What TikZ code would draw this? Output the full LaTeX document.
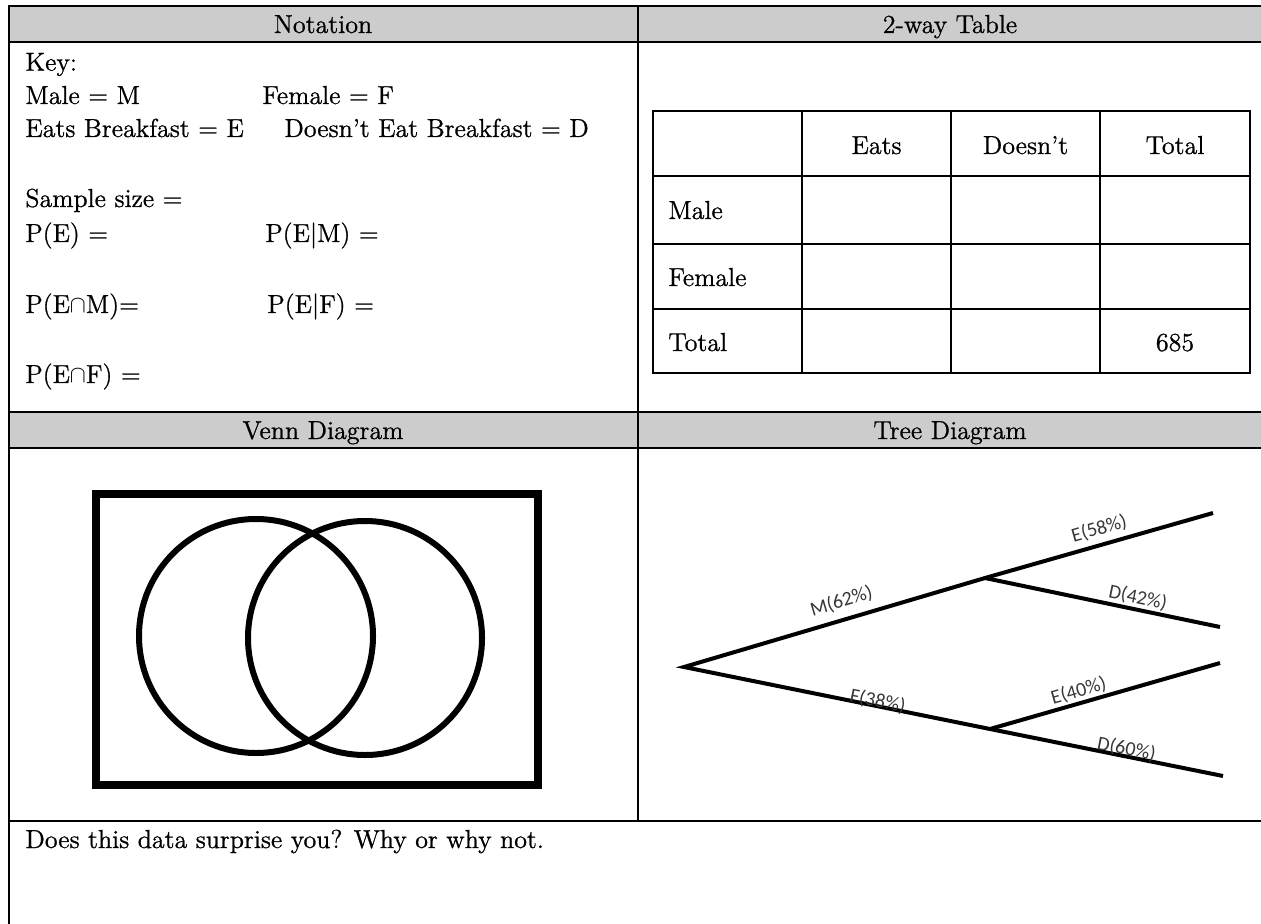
\documentclass[tikz,border=0pt]{standalone}
\usepackage{fontspec}
\newfontfamily\treefont{Carlito}
\newfontfamily\bodyfont{Latin Modern Roman}[FakeBold=0.9]
\definecolor{hdrgray}{RGB}{204,204,204}
\definecolor{labelgray}{RGB}{55,55,55}
\begin{document}
\begin{tikzpicture}[x=0.5pt,y=-0.5pt,
  grid/.style={line width=1.1pt, line cap=rect},
  txt/.style={anchor=base west, inner sep=0pt, font=\bodyfont\fontsize{13}{16}\selectfont},
  ctxt/.style={anchor=base, inner sep=0pt, font=\bodyfont\fontsize{13}{16}\selectfont},
  vennline/.style={line width=3pt},
  vennbox/.style={line width=3.75pt},
  branch/.style={line width=2pt, line join=miter},
  blabel/.style={font=\treefont\fontsize{10}{12}\selectfont, text=labelgray, inner sep=0pt, sloped}
]
\useasboundingbox (0,0) rectangle (1261,924);
\clip (0,0) rectangle (1261,924);
% header bands
\fill[hdrgray] (9,6) rectangle (1263,42);
\fill[hdrgray] (9,412) rectangle (1263,448);
% outer frame and grid
\draw[grid] (9,940) -- (9,6) -- (1263,6) -- (1263,940);
\draw[grid] (9,42) -- (1263,42);
\draw[grid] (9,412) -- (1263,412);
\draw[grid] (9,448) -- (1263,448);
\draw[grid] (9,821) -- (1263,821);
\draw[grid] (638,6) -- (638,821);
% headers
\node[ctxt] (hnot) at (323,33) {Notation};
\node[ctxt] (htab) at (950,33) {2-way Table};
\node[ctxt] (hven) at (323,439) {Venn Diagram};
\node[ctxt] (htree) at (950,439) {Tree Diagram};
% notation cell
\node[txt] (key) at (25,70.7) {Key:};
\node[txt] (male) at (25,104) {Male = M};
\node[txt] (female) at (262,104) {Female = F};
\node[txt] (eats) at (25,137) {Eats Breakfast = E};
\node[txt] (doesnt) at (284,137) {Doesn’t Eat Breakfast = D};
\node[txt] (sample) at (25,207) {Sample size =};
\node[txt] (pe) at (25,242) {P(E) =};
\node[txt] (pem) at (265,242) {P(E|M) =};
\node[txt] (pcapm) at (25,313) {P(E\ensuremath{\cap}M)=};
\node[txt] (pef) at (267,313) {P(E|F) =};
\node[txt] (pcapf) at (25,383) {P(E\ensuremath{\cap}F) =};
% 2-way table
\draw[grid] (653,111) rectangle (1250,373);
\foreach \yy in {176,244,309} \draw[grid] (653,\yy) -- (1250,\yy);
\foreach \xx in {802,951,1100} \draw[grid] (\xx,111) -- (\xx,373);
\node[ctxt] (ceats) at (876.5,154) {Eats};
\node[ctxt] (cdoes) at (1025.5,154) {Doesn’t};
\node[ctxt] (ctot) at (1175,154) {Total};
\node[txt] (rmale) at (668,219) {Male};
\node[txt] (rfem) at (668,286) {Female};
\node[txt] (rtot) at (668,351) {Total};
\node[ctxt] (n685) at (1175,351) {685};
% Venn diagram
\draw[vennbox] (96,494) rectangle (538,785);
\draw[vennline] (256,636) circle[radius=58.5pt];
\draw[vennline] (365,638) circle[radius=58.5pt];
% tree diagram
\coordinate (root) at (684,667);
\coordinate (m) at (985,578);
\coordinate (f) at (990,729);
\coordinate (e1) at (1213,513);
\coordinate (d1) at (1220,627);
\coordinate (e2) at (1220,663);
\coordinate (d2) at (1223,776);
\draw[branch] (e1) -- (m) -- (root) -- (f) -- (d2);
\draw[branch] (m) -- (d1);
\draw[branch] (f) -- (e2);
\path (root) -- node[blabel, pos=0.54, above=4.5pt] (lm) {M(62\%)} (m);
\path (root) -- node[blabel, pos=0.63, above=-2pt] (lf) {F(38\%)} (f);
\path (m) -- node[blabel, pos=0.52, above=3.5pt] (le1) {E(58\%)} (e1);
\path (m) -- node[blabel, pos=0.64, above=1.5pt] (ld1) {D(42\%)} (d1);
\path (f) -- node[blabel, pos=0.40, above=1.5pt] (le2) {E(40\%)} (e2);
\path (f) -- node[blabel, pos=0.58, above=-1pt] (ld2) {D(60\%)} (d2);
% bottom row
\node[txt] (q) at (25,848) {Does this data surprise you? Why or why not.};
\end{tikzpicture}
\end{document}
